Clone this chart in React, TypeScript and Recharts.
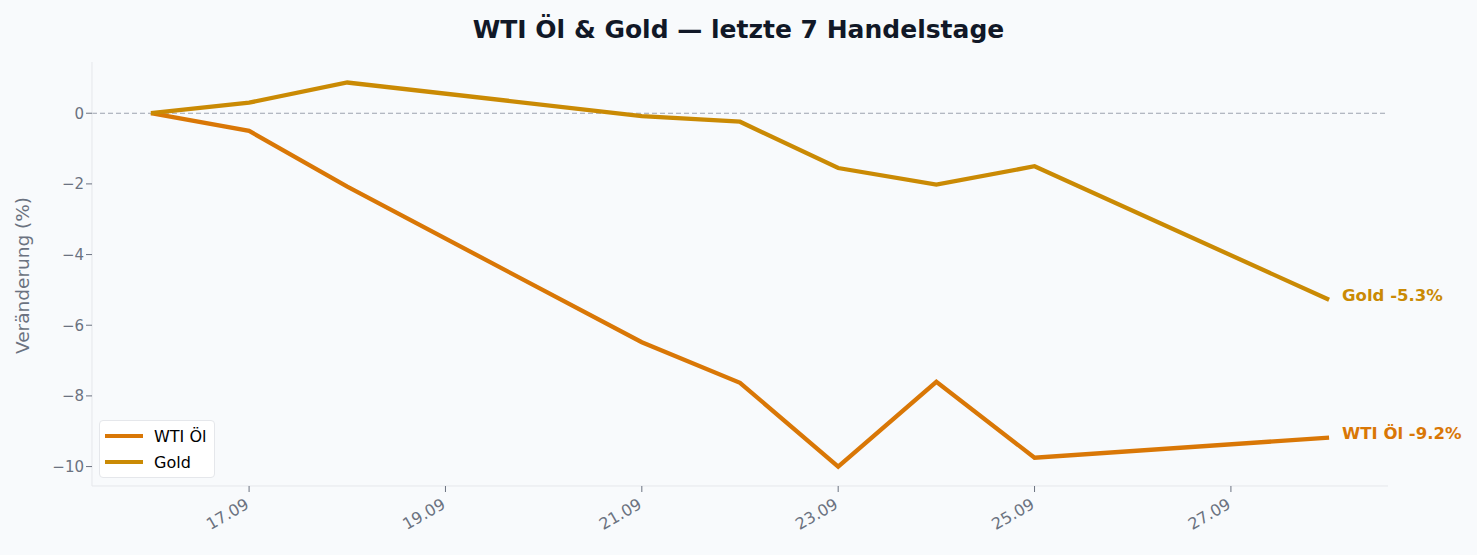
import React from "react";
import { LineChart, Line, XAxis, YAxis, ReferenceLine } from "recharts";

const days = [16, 17, 18, 21, 22, 23, 24, 25, 28];
const wtiValues = [0, -0.5, -2.08, -6.48, -7.63, -10.0, -7.6, -9.75, -9.18];
const goldValues = [0, 0.3, 0.87, -0.08, -0.24, -1.55, -2.02, -1.5, -5.28];
const xTicks = [17, 19, 21, 23, 25, 27];
const yTicks = [0, -2, -4, -6, -8, -10];

const WTI_COLOR = "#d97706";
const GOLD_COLOR = "#ca8a04";
const FONT = "'DejaVu Sans', sans-serif";

const data = days.map((d, i) => ({
  day: d,
  wti: wtiValues[i],
  gold: goldValues[i],
}));

const XTick = ({ x, y, payload }: any) => (
  <g transform={`translate(${x - 5},${y + 3})`}>
    <text
      x={0}
      y={0}
      dy={12}
      textAnchor="end"
      transform="rotate(-30)"
      fill="#6b7280"
      fontSize={16}
      fontFamily={FONT}
    >
      {`${payload.value}.09`}
    </text>
  </g>
);

const fmtY = (v: number) => (v < 0 ? `\u2212${Math.abs(v)}` : `${v}`);

const endLabel =
  (name: string, color: string, values: number[]) => (props: any) => {
    const { x, y, index } = props;
    if (index !== values.length - 1) return null;
    return (
      <text
        key={name}
        x={x + 13}
        y={y}
        dy={1}
        fill={color}
        fontSize={16.5}
        fontWeight="bold"
        fontFamily={FONT}
      >
        {`${name} ${values[index].toFixed(1)}%`}
      </text>
    );
  };

const legendItems = [
  { label: "WTI Öl", color: WTI_COLOR },
  { label: "Gold", color: GOLD_COLOR },
];

export default function App() {
  return (
    <div
      style={{
        position: "fixed",
        left: 0,
        top: 0,
        width: 1477,
        height: 555,
        background: "#f8fafc",
      }}
    >
      <div
        style={{
          position: "absolute",
          top: 15,
          width: "100%",
          textAlign: "center",
          fontFamily: FONT,
          fontWeight: "bold",
          fontSize: 25,
          color: "#111827",
        }}
      >
        WTI Öl &amp; Gold — letzte 7 Handelstage
      </div>
      <LineChart
        width={1477}
        height={555}
        data={data}
        margin={{ top: 62, right: 89, left: 32, bottom: 9 }}
      >
        <XAxis
          dataKey="day"
          type="number"
          domain={[15.4, 28.6]}
          ticks={xTicks}
          tick={<XTick />}
          height={60}
          stroke="#e5e7eb"
          tickLine={{ stroke: "#6b7280" }}
          tickSize={6}
          allowDataOverflow
        />
        <YAxis
          type="number"
          domain={[-10.55, 1.45]}
          ticks={yTicks}
          tickFormatter={fmtY}
          width={60}
          stroke="#e5e7eb"
          tickLine={{ stroke: "#6b7280" }}
          tickSize={6}
          tick={{ fill: "#6b7280", fontSize: 15, fontFamily: FONT }}
          allowDataOverflow
          label={{
            value: "Veränderung (%)",
            angle: -90,
            position: "insideLeft",
            dx: -15,
            dy: 80,
            fill: "#6b7280",
            fontSize: 18.5,
            fontFamily: FONT,
          }}
        />
        <ReferenceLine
          y={0}
          stroke="#9ca3af"
          strokeDasharray="5 3"
          strokeWidth={1.2}
        />
        <Line
          dataKey="wti"
          name="WTI Öl"
          stroke={WTI_COLOR}
          strokeWidth={4.3}
          dot={false}
          isAnimationActive={false}
          label={endLabel("WTI Öl", WTI_COLOR, wtiValues)}
        />
        <Line
          dataKey="gold"
          name="Gold"
          stroke={GOLD_COLOR}
          strokeWidth={4.3}
          dot={false}
          isAnimationActive={false}
          label={endLabel("Gold", GOLD_COLOR, goldValues)}
        />
      </LineChart>
      <div
        style={{
          position: "absolute",
          left: 99,
          top: 420,
          boxSizing: "border-box",
          background: "#ffffff",
          border: "1.5px solid #e5e7eb",
          borderRadius: 4,
          padding: "2px 6px 2px 5px",
          fontFamily: FONT,
          fontSize: 16,
          color: "#000",
          width: 116,
          height: 58,
        }}
      >
        {legendItems.map((item) => (
          <div
            key={item.label}
            style={{ display: "flex", alignItems: "center", height: 26 }}
          >
            <span
              style={{
                display: "inline-block",
                width: 38,
                height: 4,
                background: item.color,
                marginRight: 11,
              }}
            />
            <span>{item.label}</span>
          </div>
        ))}
      </div>
    </div>
  );
}
